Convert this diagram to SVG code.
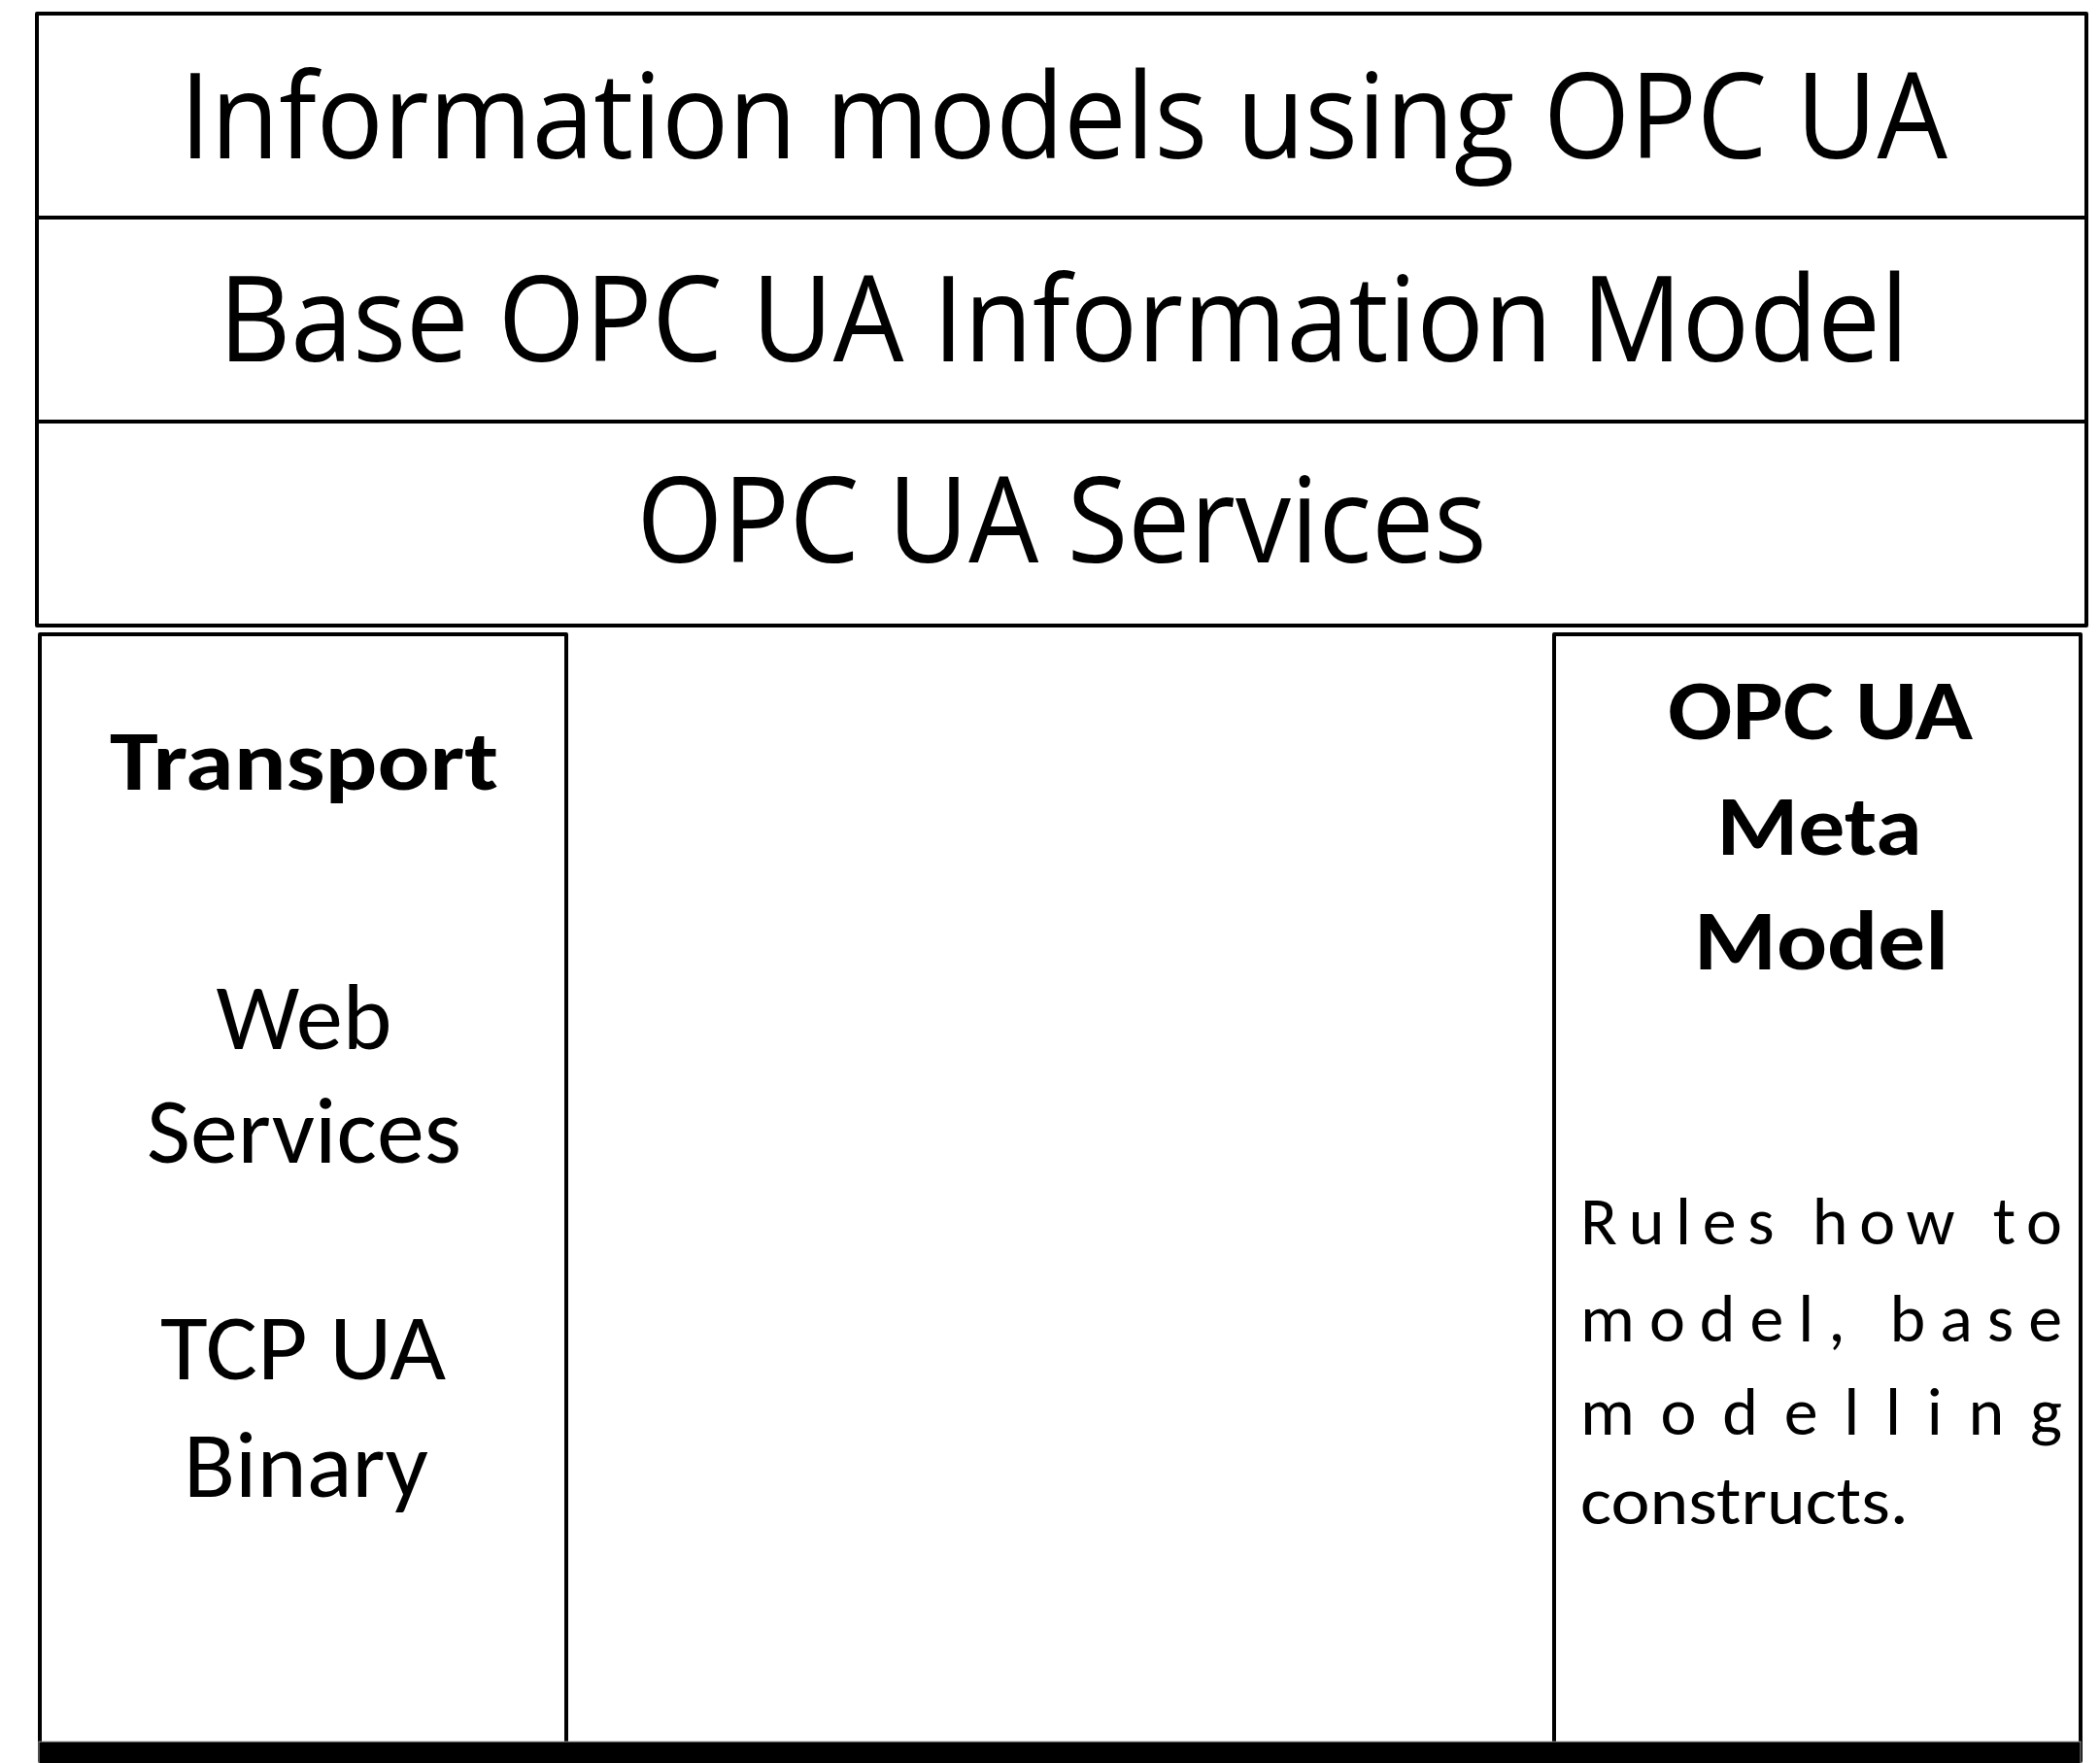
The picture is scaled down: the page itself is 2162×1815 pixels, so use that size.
<svg xmlns="http://www.w3.org/2000/svg" width="2162" height="1815" viewBox="0 0 2162 1815">
<style>
.box{fill:#fff;stroke:#000;stroke-width:4;stroke-linejoin:round}
.div{stroke:#000;stroke-width:4}
.big{font-family:"Open Sans","Noto Sans",sans-serif;font-size:122px;fill:#000;text-anchor:middle}
.cal{font-family:Carlito,Lato,"Open Sans",sans-serif;fill:#000;text-anchor:middle}
.b{font-weight:bold}
.rules{font-family:Carlito,Lato,"Open Sans",sans-serif;font-size:70px;fill:#000}
</style>
<g id="top-stack">
<rect class="box" x="38" y="14" width="2110" height="630"/>
<line class="div" x1="38" y1="224" x2="2148" y2="224"/>
<line class="div" x1="38" y1="434" x2="2148" y2="434"/>
<text class="big" x="1095" y="163" textLength="1820" lengthAdjust="spacingAndGlyphs">Information models using OPC UA</text>
<text class="big" x="1095" y="372" textLength="1740" lengthAdjust="spacingAndGlyphs">Base OPC UA Information Model</text>
<text class="big" x="1093" y="579" textLength="875" lengthAdjust="spacingAndGlyphs">OPC UA Services</text>
</g>
<g id="transport">
<rect class="box" x="41" y="653" width="542" height="1160"/>
<text class="cal b" x="313" y="813" font-size="87" textLength="400" lengthAdjust="spacingAndGlyphs">Transport</text>
<text class="cal" x="313" y="1080" font-size="96" textLength="181" lengthAdjust="spacingAndGlyphs">Web</text>
<text class="cal" x="313" y="1197" font-size="96" textLength="324" lengthAdjust="spacingAndGlyphs">Services</text>
<text class="cal" x="312" y="1420" font-size="96" textLength="294" lengthAdjust="spacingAndGlyphs">TCP UA</text>
<text class="cal" x="315" y="1541" font-size="96" textLength="252" lengthAdjust="spacingAndGlyphs">Binary</text>
</g>
<g id="meta-model">
<rect class="box" x="1600" y="653" width="542" height="1160"/>
<text class="cal b" x="1874" y="761" font-size="88" textLength="314" lengthAdjust="spacingAndGlyphs">OPC UA</text>
<text class="cal b" x="1873" y="880" font-size="88" textLength="211" lengthAdjust="spacingAndGlyphs">Meta</text>
<text class="cal b" x="1875" y="998" font-size="88" textLength="262" lengthAdjust="spacingAndGlyphs">Model</text>
<text class="rules" x="1627" y="1281" textLength="496" lengthAdjust="spacing">Rules how to</text>
<text class="rules" x="1627" y="1381" textLength="496" lengthAdjust="spacing">model, base</text>
<text class="rules" x="1627" y="1477" textLength="496" lengthAdjust="spacing">modelling</text>
<text class="rules" x="1627" y="1569" textLength="338" lengthAdjust="spacingAndGlyphs">constructs.</text>
</g>
<g id="base-bar">
<rect x="40" y="1793" width="2102" height="30" fill="#000" stroke="#999" stroke-width="1"/>
</g>
<g id="connectors"/>
</svg>
